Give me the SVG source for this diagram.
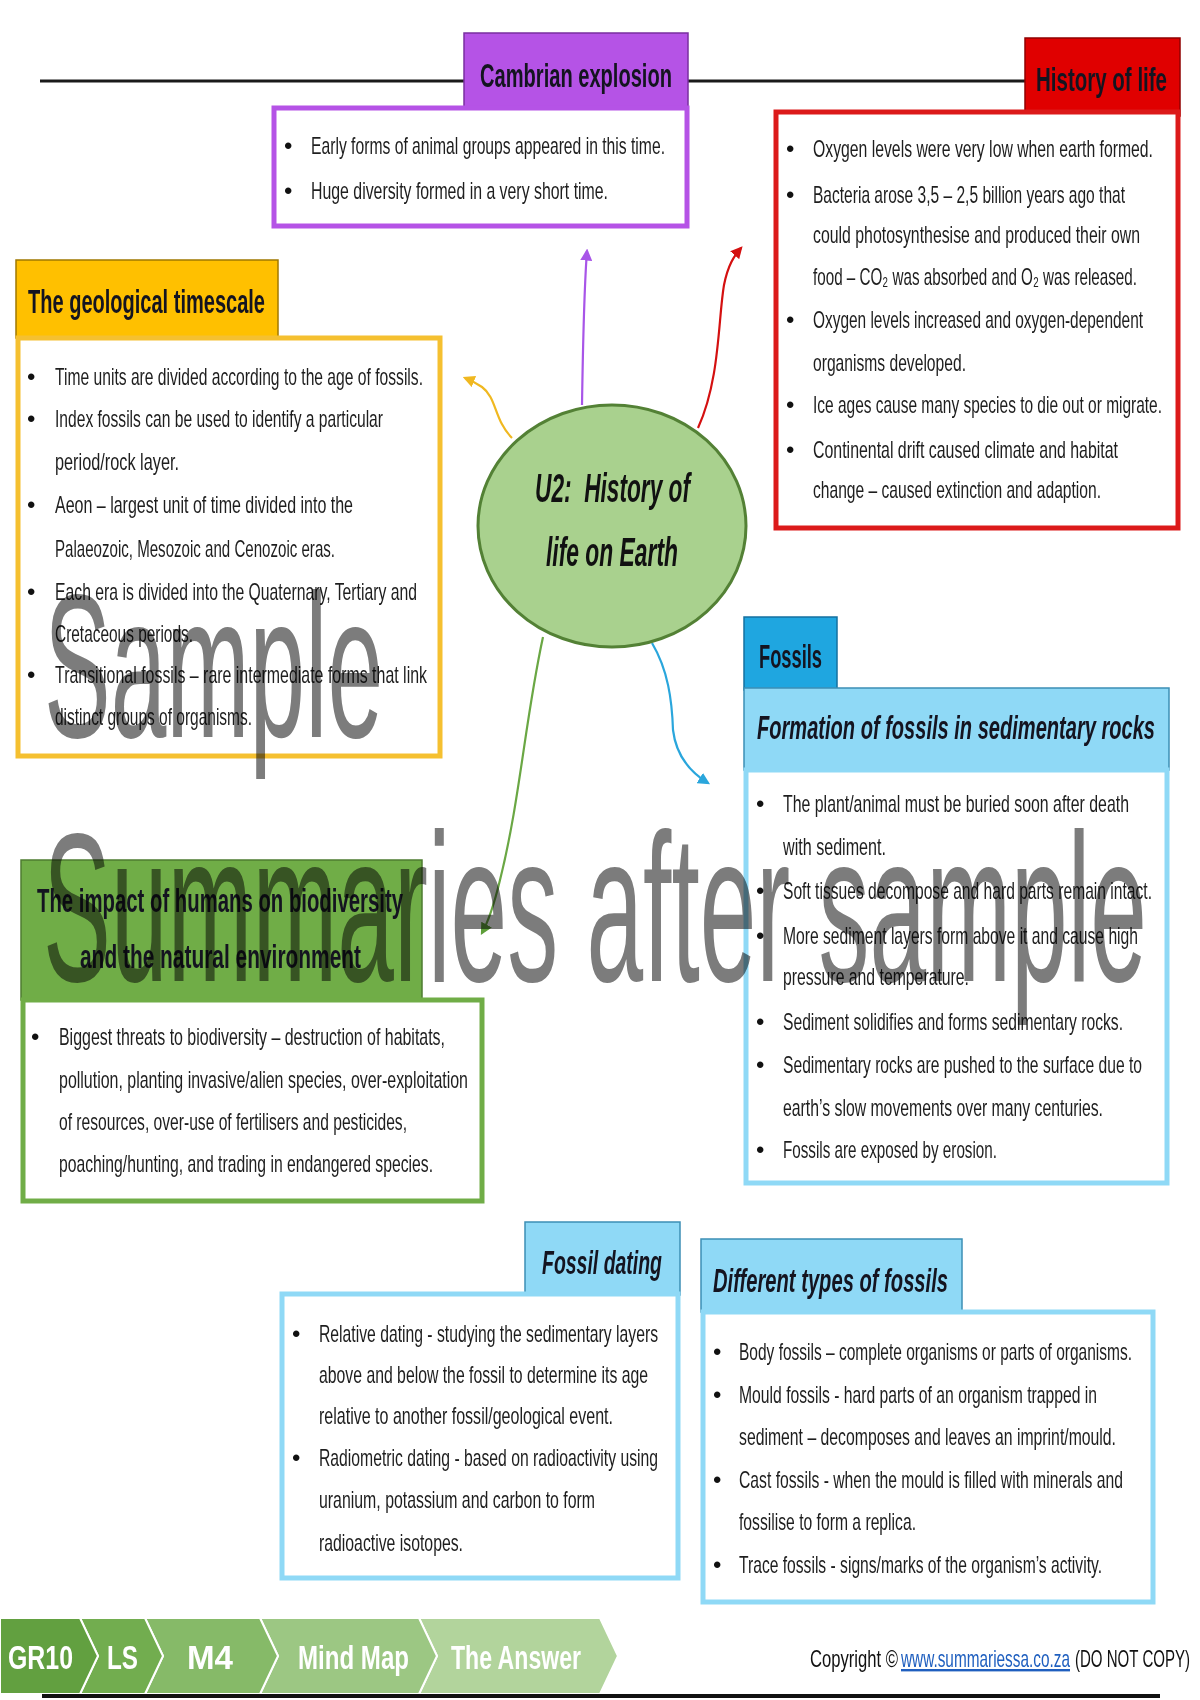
<svg xmlns="http://www.w3.org/2000/svg" width="1200" height="1700" viewBox="0 0 1200 1700">
<style>
.b{font-family:"Liberation Sans",Arial,sans-serif;font-size:24px;fill:#1e1e1e}
.bu{font-family:"Liberation Sans",Arial,sans-serif;font-size:24px;fill:#111}
.h{font-family:"Liberation Sans",Arial,sans-serif;font-size:34px;font-weight:bold;fill:#141420}
.hi{font-family:"Liberation Sans",Arial,sans-serif;font-size:34px;font-weight:bold;font-style:italic;fill:#141420}
.c{font-family:"Liberation Sans",Arial,sans-serif;font-size:40px;font-weight:bold;font-style:italic;fill:#111;white-space:pre}
.box{fill:#fff;stroke-width:5}
.crumb{font-family:"Liberation Sans",Arial,sans-serif;font-size:34px;font-weight:bold;fill:#fff}
.wm{font-family:"Liberation Sans",Arial,sans-serif;fill:#7c7c7c;mix-blend-mode:multiply}
.cp{font-family:"Liberation Sans",Arial,sans-serif;font-size:24px;fill:#111}
.conn{fill:none;stroke-width:2.2}
</style>
<defs>
<marker id="aP" viewBox="0 0 10 10" refX="8" refY="5" markerWidth="12" markerHeight="12" markerUnits="userSpaceOnUse" orient="auto"><path d="M0,0 L10,5 L0,10 z" fill="#a855e8"/></marker>
<marker id="aY" viewBox="0 0 10 10" refX="8" refY="5" markerWidth="12" markerHeight="12" markerUnits="userSpaceOnUse" orient="auto"><path d="M0,0 L10,5 L0,10 z" fill="#f0b820"/></marker>
<marker id="aR" viewBox="0 0 10 10" refX="8" refY="5" markerWidth="12" markerHeight="12" markerUnits="userSpaceOnUse" orient="auto"><path d="M0,0 L10,5 L0,10 z" fill="#d41010"/></marker>
<marker id="aG" viewBox="0 0 10 10" refX="8" refY="5" markerWidth="12" markerHeight="12" markerUnits="userSpaceOnUse" orient="auto"><path d="M0,0 L10,5 L0,10 z" fill="#5e9e3a"/></marker>
<marker id="aB" viewBox="0 0 10 10" refX="8" refY="5" markerWidth="12" markerHeight="12" markerUnits="userSpaceOnUse" orient="auto"><path d="M0,0 L10,5 L0,10 z" fill="#2aa6dc"/></marker>
</defs>
<rect width="1200" height="1700" fill="#fff"/>
<line x1="40" y1="81" x2="1030" y2="81" stroke="#1a1a1a" stroke-width="3"/>

<g id="connectors">
<path class="conn" stroke="#a855e8" d="M582,405 C583,340 584,290 587,251" marker-end="url(#aP)"/>
<path class="conn" stroke="#f0b820" d="M512,438 C494,420 497,398 482,387 C476,383 470,380 465,378" marker-end="url(#aY)"/>
<path class="conn" stroke="#d41010" d="M698,428 C720,380 718,320 724,285 C728,265 734,256 741,248" marker-end="url(#aR)"/>
<path class="conn" stroke="#6aa744" d="M543,637 C525,720 520,800 500,880 C494,905 489,920 482,933" marker-end="url(#aG)"/>
<path class="conn" stroke="#2aa6dc" d="M652,643 C668,670 672,700 673,730 C676,755 690,772 708,783" marker-end="url(#aB)"/>
</g>

<g id="cambrian">
<rect x="464" y="33" width="224" height="76" fill="#b553e6" stroke="#7a2fa0" stroke-width="1.5"/>
<rect class="box" x="274" y="108" width="413" height="118" stroke="#b553e6"/>
<text class="h" x="480" y="87" textLength="192" lengthAdjust="spacingAndGlyphs">Cambrian explosion</text>
<text class="bu" x="284" y="154">•</text><text class="b" x="311" y="154" textLength="354" lengthAdjust="spacingAndGlyphs">Early forms of animal groups appeared in this time.</text>
<text class="bu" x="284" y="199">•</text><text class="b" x="311" y="199" textLength="297" lengthAdjust="spacingAndGlyphs">Huge diversity formed in a very short time.</text>
</g>

<g id="history">
<rect x="1025" y="38" width="155" height="78" fill="#e00000" stroke="#900000" stroke-width="1.5"/>
<rect class="box" x="776" y="112" width="402" height="416" stroke="#dc1a1a"/>
<text class="h" x="1036" y="91" textLength="131" lengthAdjust="spacingAndGlyphs">History of life</text>
<text class="bu" x="786" y="157">•</text><text class="b" x="813" y="157" textLength="340" lengthAdjust="spacingAndGlyphs">Oxygen levels were very low when earth formed.</text>
<text class="bu" x="786" y="203">•</text><text class="b" x="813" y="203" textLength="312" lengthAdjust="spacingAndGlyphs">Bacteria arose 3,5 – 2,5 billion years ago that</text>
<text class="b" x="813" y="243" textLength="327" lengthAdjust="spacingAndGlyphs">could photosynthesise and produced their own</text>
<text class="b" x="813" y="285" textLength="324" lengthAdjust="spacingAndGlyphs">food – CO₂ was absorbed and O₂ was released.</text>
<text class="bu" x="786" y="328">•</text><text class="b" x="813" y="328" textLength="330" lengthAdjust="spacingAndGlyphs">Oxygen levels increased and oxygen-dependent</text>
<text class="b" x="813" y="371" textLength="153" lengthAdjust="spacingAndGlyphs">organisms developed.</text>
<text class="bu" x="786" y="413">•</text><text class="b" x="813" y="413" textLength="349" lengthAdjust="spacingAndGlyphs">Ice ages cause many species to die out or migrate.</text>
<text class="bu" x="786" y="458">•</text><text class="b" x="813" y="458" textLength="305" lengthAdjust="spacingAndGlyphs">Continental drift caused climate and habitat</text>
<text class="b" x="813" y="498" textLength="288" lengthAdjust="spacingAndGlyphs">change – caused extinction and adaption.</text>
</g>

<g id="geological">
<rect x="16" y="260" width="262" height="78" fill="#ffc000" stroke="#a07800" stroke-width="1.5"/>
<rect class="box" x="18" y="338" width="422" height="418" stroke="#f5c030"/>
<text class="h" x="28" y="313" textLength="237" lengthAdjust="spacingAndGlyphs">The geological timescale</text>
<text class="bu" x="27" y="385">•</text><text class="b" x="55" y="385" textLength="368" lengthAdjust="spacingAndGlyphs">Time units are divided according to the age of fossils.</text>
<text class="bu" x="27" y="427">•</text><text class="b" x="55" y="427" textLength="328" lengthAdjust="spacingAndGlyphs">Index fossils can be used to identify a particular</text>
<text class="b" x="55" y="470" textLength="124" lengthAdjust="spacingAndGlyphs">period/rock layer.</text>
<text class="bu" x="27" y="513">•</text><text class="b" x="55" y="513" textLength="298" lengthAdjust="spacingAndGlyphs">Aeon – largest unit of time divided into the</text>
<text class="b" x="55" y="557" textLength="280" lengthAdjust="spacingAndGlyphs">Palaeozoic, Mesozoic and Cenozoic eras.</text>
<text class="bu" x="27" y="600">•</text><text class="b" x="55" y="600" textLength="362" lengthAdjust="spacingAndGlyphs">Each era is divided into the Quaternary, Tertiary and</text>
<text class="b" x="55" y="642" textLength="138" lengthAdjust="spacingAndGlyphs">Cretaceous periods.</text>
<text class="bu" x="27" y="683">•</text><text class="b" x="55" y="683" textLength="372" lengthAdjust="spacingAndGlyphs">Transitional fossils – rare intermediate forms that link</text>
<text class="b" x="55" y="725" textLength="197" lengthAdjust="spacingAndGlyphs">distinct groups of organisms.</text>
</g>

<g id="center">
<ellipse cx="612" cy="526" rx="134" ry="121" fill="#a9d18e" stroke="#538135" stroke-width="3"/>
<text class="c" x="535" y="502" textLength="155" lengthAdjust="spacingAndGlyphs" xml:space="preserve">U2:  History of</text>
<text class="c" x="546" y="566" textLength="132" lengthAdjust="spacingAndGlyphs">life on Earth</text>
</g>

<g id="impact">
<rect x="21" y="860" width="401" height="140" fill="#70ad47" stroke="#4e7c30" stroke-width="1.5"/>
<rect class="box" x="23" y="1000" width="459" height="201" stroke="#70ad47"/>
<text class="h" x="37" y="912" textLength="366" lengthAdjust="spacingAndGlyphs">The impact of humans on biodiversity</text>
<text class="h" x="80" y="968" textLength="281" lengthAdjust="spacingAndGlyphs">and the natural environment</text>
<text class="bu" x="31" y="1045">•</text><text class="b" x="59" y="1045" textLength="386" lengthAdjust="spacingAndGlyphs">Biggest threats to biodiversity – destruction of habitats,</text>
<text class="b" x="59" y="1088" textLength="409" lengthAdjust="spacingAndGlyphs">pollution, planting invasive/alien species, over-exploitation</text>
<text class="b" x="59" y="1130" textLength="348" lengthAdjust="spacingAndGlyphs">of resources, over-use of fertilisers and pesticides,</text>
<text class="b" x="59" y="1172" textLength="374" lengthAdjust="spacingAndGlyphs">poaching/hunting, and trading in endangered species.</text>
</g>

<g id="fossils">
<rect x="744" y="617" width="93" height="73" fill="#1fa6e0" stroke="#1570a0" stroke-width="1.5"/>
<rect x="744" y="688" width="425" height="82" fill="#8fd9f6" stroke="#3d8fb5" stroke-width="1.5"/>
<rect class="box" x="746" y="770" width="421" height="413" stroke="#8fd9f6"/>
<text class="h" x="759" y="668" textLength="63" lengthAdjust="spacingAndGlyphs">Fossils</text>
<text class="hi" x="757" y="739" textLength="398" lengthAdjust="spacingAndGlyphs">Formation of fossils in sedimentary rocks</text>
<text class="bu" x="756" y="812">•</text><text class="b" x="783" y="812" textLength="346" lengthAdjust="spacingAndGlyphs">The plant/animal must be buried soon after death</text>
<text class="b" x="783" y="855" textLength="103" lengthAdjust="spacingAndGlyphs">with sediment.</text>
<text class="bu" x="756" y="899">•</text><text class="b" x="783" y="899" textLength="369" lengthAdjust="spacingAndGlyphs">Soft tissues decompose and hard parts remain intact.</text>
<text class="bu" x="756" y="944">•</text><text class="b" x="783" y="944" textLength="355" lengthAdjust="spacingAndGlyphs">More sediment layers form above it and cause high</text>
<text class="b" x="783" y="985" textLength="186" lengthAdjust="spacingAndGlyphs">pressure and temperature.</text>
<text class="bu" x="756" y="1030">•</text><text class="b" x="783" y="1030" textLength="340" lengthAdjust="spacingAndGlyphs">Sediment solidifies and forms sedimentary rocks.</text>
<text class="bu" x="756" y="1073">•</text><text class="b" x="783" y="1073" textLength="359" lengthAdjust="spacingAndGlyphs">Sedimentary rocks are pushed to the surface due to</text>
<text class="b" x="783" y="1116" textLength="320" lengthAdjust="spacingAndGlyphs">earth’s slow movements over many centuries.</text>
<text class="bu" x="756" y="1158">•</text><text class="b" x="783" y="1158" textLength="214" lengthAdjust="spacingAndGlyphs">Fossils are exposed by erosion.</text>
</g>

<g id="fossil-dating">
<rect x="525" y="1222" width="155" height="73" fill="#8fd9f6" stroke="#3d8fb5" stroke-width="1.5"/>
<rect class="box" x="282" y="1294" width="396" height="284" stroke="#8fd9f6"/>
<text class="hi" x="542" y="1274" textLength="120" lengthAdjust="spacingAndGlyphs">Fossil dating</text>
<text class="bu" x="292" y="1342">•</text><text class="b" x="319" y="1342" textLength="339" lengthAdjust="spacingAndGlyphs">Relative dating - studying the sedimentary layers</text>
<text class="b" x="319" y="1383" textLength="329" lengthAdjust="spacingAndGlyphs">above and below the fossil to determine its age</text>
<text class="b" x="319" y="1424" textLength="294" lengthAdjust="spacingAndGlyphs">relative to another fossil/geological event.</text>
<text class="bu" x="292" y="1466">•</text><text class="b" x="319" y="1466" textLength="339" lengthAdjust="spacingAndGlyphs">Radiometric dating - based on radioactivity using</text>
<text class="b" x="319" y="1508" textLength="276" lengthAdjust="spacingAndGlyphs">uranium, potassium and carbon to form</text>
<text class="b" x="319" y="1551" textLength="144" lengthAdjust="spacingAndGlyphs">radioactive isotopes.</text>
</g>

<g id="types">
<rect x="701" y="1239" width="261" height="73" fill="#8fd9f6" stroke="#3d8fb5" stroke-width="1.5"/>
<rect class="box" x="703" y="1312" width="450" height="290" stroke="#8fd9f6"/>
<text class="hi" x="713" y="1292" textLength="235" lengthAdjust="spacingAndGlyphs">Different types of fossils</text>
<text class="bu" x="713" y="1360">•</text><text class="b" x="739" y="1360" textLength="393" lengthAdjust="spacingAndGlyphs">Body fossils – complete organisms or parts of organisms.</text>
<text class="bu" x="713" y="1403">•</text><text class="b" x="739" y="1403" textLength="358" lengthAdjust="spacingAndGlyphs">Mould fossils - hard parts of an organism trapped in</text>
<text class="b" x="739" y="1445" textLength="377" lengthAdjust="spacingAndGlyphs">sediment – decomposes and leaves an imprint/mould.</text>
<text class="bu" x="713" y="1488">•</text><text class="b" x="739" y="1488" textLength="384" lengthAdjust="spacingAndGlyphs">Cast fossils - when the mould is filled with minerals and</text>
<text class="b" x="739" y="1530" textLength="177" lengthAdjust="spacingAndGlyphs">fossilise to form a replica.</text>
<text class="bu" x="713" y="1573">•</text><text class="b" x="739" y="1573" textLength="363" lengthAdjust="spacingAndGlyphs">Trace fossils - signs/marks of the organism’s activity.</text>
</g>

<g id="breadcrumb">
<polygon points="419,1618 600,1618 618,1656 600,1694 419,1694 437,1656" fill="#b2d49c" stroke="#fff" stroke-width="2"/>
<polygon points="260,1618 419,1618 437,1656 419,1694 260,1694 278,1656" fill="#9cc783" stroke="#fff" stroke-width="2"/>
<polygon points="145,1618 260,1618 278,1656 260,1694 145,1694 163,1656" fill="#86ba68" stroke="#fff" stroke-width="2"/>
<polygon points="80,1618 145,1618 163,1656 145,1694 80,1694 98,1656" fill="#72ad4f" stroke="#fff" stroke-width="2"/>
<polygon points="0,1618 80,1618 98,1656 80,1694 0,1694" fill="#62a040" stroke="#fff" stroke-width="2"/>
<text class="crumb" x="8" y="1669" textLength="65" lengthAdjust="spacingAndGlyphs">GR10</text>
<text class="crumb" x="107" y="1669" textLength="31" lengthAdjust="spacingAndGlyphs">LS</text>
<text class="crumb" x="187" y="1669" textLength="46" lengthAdjust="spacingAndGlyphs">M4</text>
<text class="crumb" x="298" y="1669" textLength="111" lengthAdjust="spacingAndGlyphs">Mind Map</text>
<text class="crumb" x="451" y="1669" textLength="130" lengthAdjust="spacingAndGlyphs">The Answer</text>
</g>

<g id="copyright">
<text class="cp" x="810" y="1667" textLength="88" lengthAdjust="spacingAndGlyphs">Copyright ©</text>
<text class="cp" x="901" y="1667" textLength="169" lengthAdjust="spacingAndGlyphs" style="fill:#1f5fbf" text-decoration="underline">www.summariessa.co.za</text>
<text class="cp" x="1075" y="1667" textLength="115" lengthAdjust="spacingAndGlyphs">(DO NOT COPY)</text>
</g>
<line x1="42" y1="1696" x2="1160" y2="1696" stroke="#111" stroke-width="4"/>

<text class="wm" x="44" y="737" font-size="204" textLength="339" lengthAdjust="spacingAndGlyphs">Sample</text>
<text class="wm" x="43" y="981" font-size="212" textLength="1104" lengthAdjust="spacingAndGlyphs">Summaries after sample</text>
</svg>
